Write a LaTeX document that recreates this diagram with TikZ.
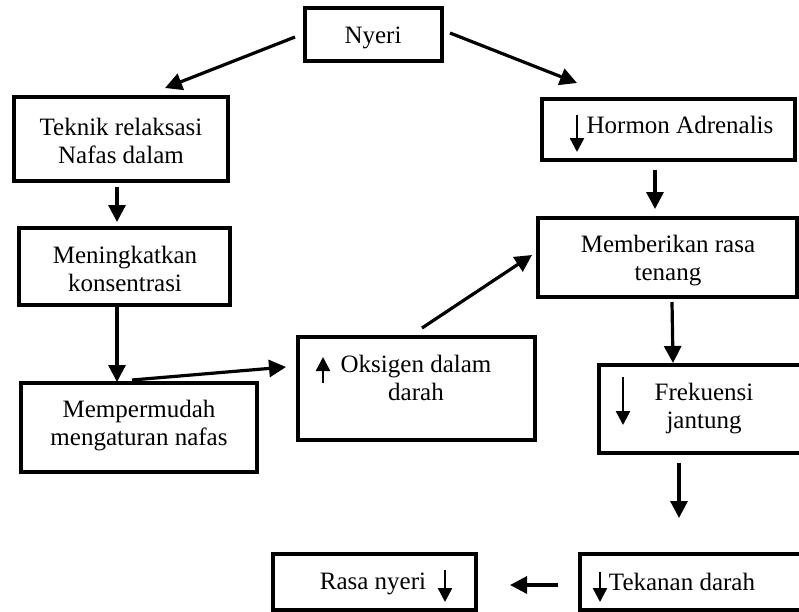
\documentclass[tikz,border=0pt]{standalone}
\usepackage{fontspec}
\setmainfont{Liberation Serif}
\usetikzlibrary{arrows.meta}

\begin{document}
\begin{tikzpicture}[x=1pt,y=-1pt,
    box/.style 2 args={draw,line width=3.2pt,outer sep=0pt,minimum width=#1,minimum height=#2},
    txt/.style={align=center,inner sep=0pt,font=\fontsize{25}{28}\selectfont},
    link/.style={line width=3.2pt,-{Triangle[length=17pt,width=17pt]}},
    innerarr/.style={line width=2.4pt,-{Triangle[length=14pt,width=14pt]}}]
    \clip (0,0) rectangle (799,611);

    % boxes
    \node[box={137pt}{53pt}] (nyeri) at (373.5, 34.5) {};
    \node[box={214pt}{84pt}] (teknik) at (121, 139) {};
    \node[box={253pt}{61pt}] (hormon) at (668.5, 129.5) {};
    \node[box={211pt}{77pt}] (konsentrasi) at (124.5, 266.5) {};
    \node[box={236pt}{89pt}] (mudah) at (139, 427.5) {};
    \node[box={237pt}{103pt}] (oksigen) at (416.5, 388.5) {};
    \node[box={259pt}{79pt}] (tenang) at (667.5, 257.5) {};
    \node[box={211pt}{88pt}] (frekuensi) at (704.5, 409) {};
    \node[box={203pt}{56pt}] (rasa) at (374.5, 582) {};
    \node[box={230pt}{56pt}] (tekanan) at (695, 582) {};

    % texts
    \node[txt] (nyeri-t) at (373, 37.5) {Nyeri};
    \node[txt] (teknik-t) at (121, 141) {Teknik relaksasi\\Nafas dalam};
    \node[txt] (hormon-t) at (680, 125) {Hormon Adrenalis};
    \node[txt] (konsentrasi-t) at (125, 269) {Meningkatkan\\konsentrasi};
    \node[txt] (mudah-t) at (139, 426) {Mempermudah\\mengaturan nafas};
    \node[txt] (oksigen-t) at (416, 377.5) {Oksigen dalam\\darah};
    \node[txt] (tenang-t) at (668, 261) {Memberikan rasa\\tenang};
    \node[txt] (frekuensi-t) at (704, 408.5) {Frekuensi\\jantung};
    \node[txt] (rasa-t) at (373, 583.5) {Rasa nyeri};
    \node[txt] (tekanan-t) at (682, 582) {Tekanan darah};

    % connectors
    \draw[link] ([shift={(-10,2.5)}]nyeri.west) -- ([shift={(44,-9)}]teknik.north);
    \draw[link] ([shift={(8,-1.5)}]nyeri.east) -- ([shift={(-91.5,-16)}]hormon.north);
    \draw[link] ([shift={(-4,6)}]teknik.south) -- ([shift={(-7.5,-6)}]konsentrasi.north);
    \draw[link] ([shift={(-7.5,2)}]konsentrasi.south) -- ([shift={(-22,-1)}]mudah.north);
    \draw[link] ([shift={(-7,-3)}]mudah.north) -- ([shift={(-12,-21.5)}]oksigen.west);
    \draw[link] ([shift={(5.5,-9)}]oksigen.north) -- ([shift={(-6,-2.5)}]tenang.west);
    \draw[link] ([shift={(-13.5,10)}]hormon.south) -- ([shift={(-12.5,-9)}]tenang.north);
    \draw[link] ([shift={(4.5,5)}]tenang.south) -- ([shift={(-31.5,-2)}]frekuensi.north);
    \draw[link] ([shift={(-25.5,10)}]frekuensi.south) -- ([shift={(-16,-36)}]tekanan.north);
    \draw[link] ([shift={(-22,3)}]tekanan.west) -- ([shift={(34,3)}]rasa.east);

    % up / down marks
    \draw[innerarr] ([shift={(35,-14.5)}]hormon.west) -- ([shift={(35,22.5)}]hormon.west);
    \draw[innerarr] ([shift={(25,-5.5)}]oksigen.west) -- ([shift={(25,-31.5)}]oksigen.west);
    \draw[innerarr] ([shift={(24,-32)}]frekuensi.west) -- ([shift={(24,16)}]frekuensi.west);
    \draw[innerarr] ([shift={(-31,-12)}]rasa.east) -- ([shift={(-31,20)}]rasa.east);
    \draw[innerarr] ([shift={(20,-10)}]tekanan.west) -- ([shift={(20,20)}]tekanan.west);
\end{tikzpicture}
\end{document}
